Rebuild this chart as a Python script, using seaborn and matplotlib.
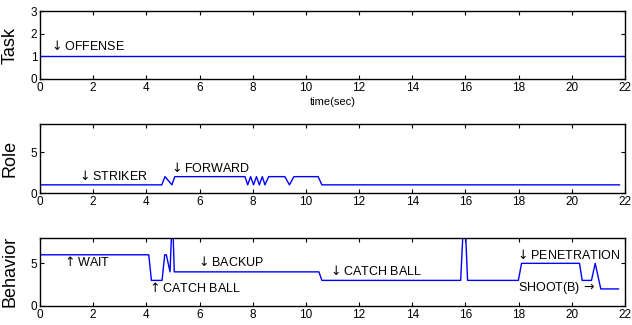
import matplotlib
matplotlib.use("Agg")
import matplotlib.pyplot as plt
import seaborn as sns

# task level over time
task_t = [0, 22]
task_v = [1, 1]

# role over time (1 = striker, 2 = forward)
role_t = [0, 4.58, 4.70, 4.96, 5.07, 7.71, 7.81, 7.92, 8.03, 8.14, 8.25, 8.36,
          8.46, 8.60, 9.21, 9.38, 9.55, 10.46, 10.60, 21.8]
role_v = [1, 1, 2, 1, 2, 2, 1, 2, 1, 2, 1, 2, 1, 2, 2, 1, 2, 2, 1, 1]

# behavior over time
beh_t = [0, 4.09, 4.19, 4.59, 4.69, 4.75, 4.89, 4.98, 5.05, 10.49, 10.60,
         15.82, 15.96, 16.08, 17.99, 18.11, 20.29, 20.39, 20.74, 20.88, 21.09, 21.76]
beh_v = [6, 6, 3, 3, 6, 6, 4, 11, 4, 4, 3, 3, 12, 3, 3, 5, 5, 3, 3, 5, 2, 2]

x_ticks = list(range(0, 23, 2))

DN, UP, RT = r"$\downarrow$", r"$\uparrow$", r"$\,\rightarrow$"

# annotations: (x, y, text)
task_notes = [(0.35, 1.46, DN + "OFFENSE")]
role_notes = [(1.38, 2.08, DN + "STRIKER"), (4.85, 3.04, DN + "FORWARD")]
beh_notes = [(0.83, 5.2, UP + "WAIT"), (4.03, 2.05, UP + "CATCH BALL"),
             (5.86, 5.2, DN + "BACKUP"), (10.84, 4.09, DN + "CATCH BALL"),
             (17.87, 6.02, DN + "PENETRATION"), (17.99, 2.05, "SHOOT(B)" + RT)]

sns.set_style("ticks")
plt.rcParams['font.family'] = ['Liberation Sans', 'DejaVu Sans']
plt.rcParams['text.color'] = 'black'
plt.rcParams['axes.labelcolor'] = 'black'
plt.rcParams['mathtext.fontset'] = 'dejavusans'

fig = plt.figure(figsize=(6.32, 3.25), dpi=100)
ax_task = fig.add_axes([0.0633, 0.757, 0.9256, 0.209])
ax_role = fig.add_axes([0.0633, 0.406, 0.9256, 0.212])
ax_beh = fig.add_axes([0.0633, 0.0585, 0.9256, 0.21])

panels = [
    (ax_task, task_t, task_v, "Task", (0, 3), [0, 1, 2, 3], task_notes),
    (ax_role, role_t, role_v, "Role", (0, 8.4), [0, 5], role_notes),
    (ax_beh, beh_t, beh_v, "Behavior", (0, 8), [0, 5], beh_notes),
]

for ax, t, v, name, ylim, yt, notes in panels:
    sns.lineplot(x=t, y=v, ax=ax, color="blue", linewidth=1.0,
                 estimator=None, sort=False)
    ax.set_xlim(0, 22)
    ax.set_ylim(*ylim)
    ax.set_xticks(x_ticks)
    ax.set_yticks(yt)
    ax.tick_params(direction="in", top=True, right=True, length=3,
                   width=0.8, labelsize=8.5, pad=2, colors="black")
    for sp in ax.spines.values():
        sp.set_linewidth(1.0)
        sp.set_color("black")
    ax.set_ylabel(name, fontsize=13)
    ax.yaxis.set_label_coords(-0.037, 0.5)
    for x, y, s in notes:
        ax.text(x, y, s, fontsize=9.0, ha="left", va="center", color="black")

ax_task.set_xlabel("time(sec)", fontsize=8, labelpad=2)

fig.savefig("out.png", dpi=100)
